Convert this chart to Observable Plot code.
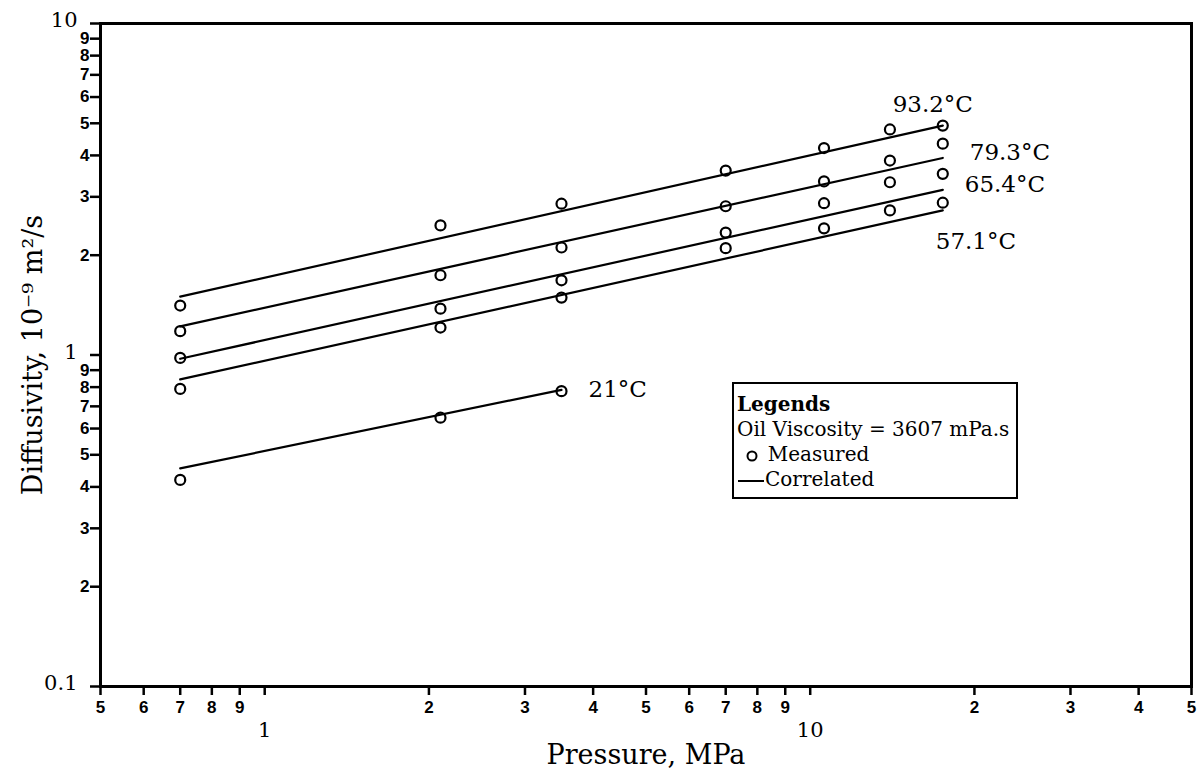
<!DOCTYPE html>
<html>
<head>
<meta charset="utf-8">
<script src="https://cdn.jsdelivr.net/npm/d3@7"></script>
<script src="https://cdn.jsdelivr.net/npm/@observablehq/plot@0.6"></script>
<style>
  body { margin: 0; background: #fff; }
  #chart { position: relative; width: 1198px; height: 770px; }
  .legend {
    position: absolute; left: 732px; top: 382px; width: 286px; height: 117px;
    border: 2.5px solid #000; box-sizing: border-box; background: #fff;
    font-family: "DejaVu Serif", serif; font-size: 20px; line-height: 25px;
    padding: 8px 0 0 3px; color: #000; white-space: nowrap;
  }
  .legend .title { font-weight: bold; }
  .legend svg { vertical-align: middle; }
</style>
</head>
<body>
<div id="chart"></div>
<script>
// Pressure (MPa) at which diffusivity was measured
const pressure = [0.7, 2.1, 3.5, 7.0, 10.6, 14.0, 17.5];
const pressure21 = [0.7, 2.1, 3.5];

// Measured diffusivity, 10^-9 m^2/s, one array per temperature
const measured932 = [1.41, 2.46, 2.86, 3.60, 4.21, 4.79, 4.92];
const measured793 = [1.18, 1.74, 2.11, 2.81, 3.34, 3.86, 4.34];
const measured654 = [0.98, 1.38, 1.68, 2.34, 2.87, 3.32, 3.52];
const measured571 = [0.79, 1.21, 1.49, 2.10, 2.41, 2.73, 2.88];
const measured21 = [0.42, 0.647, 0.778];

// Correlated (power-law) lines: end points of each straight log-log line
const correlatedP = [0.7, 17.5];
const correlatedP21 = [0.7, 3.5];
const correlated932 = [1.50, 4.92];
const correlated793 = [1.22, 3.93];
const correlated654 = [0.974, 3.15];
const correlated571 = [0.844, 2.73];
const correlated21 = [0.455, 0.785];

const temperatures = ["93.2°C", "79.3°C", "65.4°C", "57.1°C", "21°C"];

// Axis ticks and labels
const pressureTicks = [0.5, 0.6, 0.7, 0.8, 0.9, 1, 2, 3, 4, 5, 6, 7, 8, 9, 10, 20, 30, 40, 50];
const pressureMajor = [1, 10];
const diffusivityTicks = [0.1, 0.2, 0.3, 0.4, 0.5, 0.6, 0.7, 0.8, 0.9, 1, 2, 3, 4, 5, 6, 7, 8, 9, 10];
const diffusivityMajor = [10, 1, 0.1];
const xTitle = "Pressure, MPa";
const yTitle = "Diffusivity, 10⁻⁹ m²/s";

const seriesP = [pressure, pressure, pressure, pressure, pressure21];
const seriesD = [measured932, measured793, measured654, measured571, measured21];
const corrP = [correlatedP, correlatedP, correlatedP, correlatedP, correlatedP21];
const corrD = [correlated932, correlated793, correlated654, correlated571, correlated21];

const points = temperatures.flatMap((t, k) => seriesP[k].map((p, i) => ({temp: t, p, d: seriesD[k][i]})));
const lines = temperatures.flatMap((t, k) => corrP[k].map((p, i) => ({temp: t, p, d: corrD[k][i]})));
const lineEnd = t => lines.filter(r => r.temp === t).slice(-1);

// leading digit of a tick value, e.g. 0.6 -> "6", 30 -> "3"
const leading = v => String(Math.round(v / Math.pow(10, Math.floor(Math.log10(v) + 1e-9))));
const serif = "DejaVu Serif, serif";
const sans = "Liberation Sans, Arial, sans-serif";

const minorX = pressureTicks.filter(v => !pressureMajor.includes(v));
const minorY = diffusivityTicks.filter(v => !diffusivityMajor.includes(v));

const labelStyle = {x: "p", y: "d", text: "temp", fontFamily: serif, fontSize: 23, lineAnchor: "middle"};
const minorStyle = {text: leading, fontFamily: sans, fontWeight: "bold", fontSize: 17, lineAnchor: "middle"};

const chart = Plot.plot({
  width: 1198,
  height: 770,
  marginLeft: 100,
  marginRight: 7,
  marginTop: 23,
  marginBottom: 84,
  style: {background: "#fff", color: "#000"},
  x: {type: "log", domain: [0.5, 50]},
  y: {type: "log", domain: [0.1, 10]},
  marks: [
    // tick marks only; the labels are drawn below as text
    Plot.axisX({ticks: pressureTicks, tickSize: 9, strokeWidth: 2.5, tickFormat: () => "", label: null}),
    Plot.axisY({ticks: diffusivityTicks, tickSize: 10, strokeWidth: 2.5, tickFormat: () => "", label: null}),
    Plot.text(minorX, {...minorStyle, x: d => d, frameAnchor: "bottom", dy: 21}),
    Plot.text(minorY, {...minorStyle, y: d => d, frameAnchor: "left", dx: -11, textAnchor: "end"}),
    Plot.text(pressureMajor, {x: d => d, frameAnchor: "bottom", dy: 44, lineAnchor: "middle", text: d => String(d), fontFamily: serif, fontSize: 21}),
    Plot.text(diffusivityMajor, {y: d => d, frameAnchor: "left", dx: -23, dy: -3, textAnchor: "end", lineAnchor: "middle", text: d => String(d), fontFamily: serif, fontSize: 21}),
    Plot.text([xTitle], {frameAnchor: "bottom", dy: 69, lineAnchor: "middle", textAnchor: "middle", fontFamily: serif, fontSize: 27}),
    Plot.text([yTitle], {frameAnchor: "left", dx: -67, rotate: -90, lineAnchor: "middle", textAnchor: "middle", fontFamily: serif, fontSize: 27}),
    Plot.frame({stroke: "#000", strokeWidth: 3}),
    Plot.line(lines, {x: "p", y: "d", z: "temp", stroke: "#000", strokeWidth: 2.2}),
    Plot.dot(points, {x: "p", y: "d", r: 5, stroke: "#000", strokeWidth: 2.2, fill: "none"}),
    Plot.text(lineEnd("93.2°C"), {...labelStyle, dx: -10, dy: -21}),
    Plot.text(lineEnd("79.3°C"), {...labelStyle, dx: 27, dy: -5, textAnchor: "start"}),
    Plot.text(lineEnd("65.4°C"), {...labelStyle, dx: 22, dy: -5, textAnchor: "start"}),
    Plot.text(lineEnd("57.1°C"), {...labelStyle, dx: -7, dy: 31, textAnchor: "start"}),
    Plot.text(lineEnd("21°C"), {...labelStyle, dx: 27, textAnchor: "start"})
  ]
});

const root = document.getElementById("chart");
root.appendChild(chart);

// Legend box drawn over the plot area
const legend = document.createElement("div");
legend.className = "legend";
legend.innerHTML =
  '<div class="title">Legends</div>' +
  '<div>Oil Viscosity = 3607 mPa.s</div>' +
  '<div>&nbsp;<svg width="18" height="14"><circle cx="9" cy="7" r="4.5" fill="none" stroke="#000" stroke-width="2"/></svg> Measured</div>' +
  '<div><svg width="28" height="14"><line x1="1" x2="27" y1="7" y2="7" stroke="#000" stroke-width="2"/></svg>Correlated</div>';
root.appendChild(legend);
</script>
</body>
</html>
